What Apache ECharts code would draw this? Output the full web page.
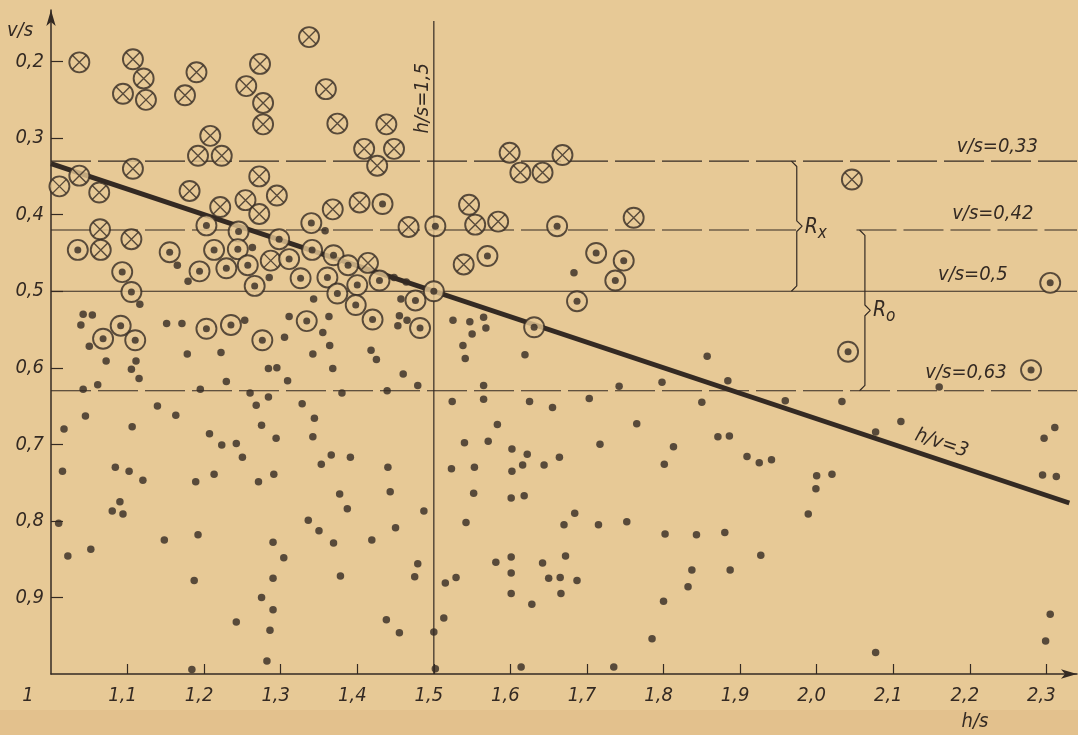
<!DOCTYPE html>
<html>
<head>
<meta charset="utf-8">
<script src="https://cdn.jsdelivr.net/npm/echarts@6/dist/echarts.min.js"></script>
<style>
html, body { margin: 0; padding: 0; background: #e7c996; }
#main { width: 1078px; height: 735px; }
</style>
</head>
<body>
<div id="main"></div>
<script>
// --- data: h/s (x) against v/s (y) ---
var xTicks = [1.1, 1.2, 1.3, 1.4, 1.5, 1.6, 1.7, 1.8, 1.9, 2.0, 2.1, 2.2, 2.3];
var yTicks = [0.2, 0.3, 0.4, 0.5, 0.6, 0.7, 0.8, 0.9];
var levels = [0.33, 0.42, 0.5, 0.63];
var hsLine = 1.5;
var hvLine = [[1.0, 0.3333], [2.33, 0.7767]];   // h/v = 3

// circle with cross
var crossed = [
  [1.037,0.201],[1.107,0.197],[1.121,0.222],[1.094,0.242],[1.124,0.250],[1.190,0.214],[1.175,0.244],
  [1.255,0.232],[1.273,0.203],[1.277,0.254],[1.277,0.282],[1.337,0.168],[1.359,0.236],[1.374,0.281],
  [1.438,0.282],[1.409,0.314],[1.448,0.314],[1.426,0.336],[1.208,0.297],[1.192,0.323],[1.223,0.323],
  [1.107,0.340],[1.037,0.349],[1.011,0.363],[1.063,0.371],[1.272,0.350],[1.181,0.369],[1.254,0.381],
  [1.221,0.390],[1.295,0.375],[1.272,0.399],[1.368,0.393],[1.403,0.384],
  [1.064,0.419],[1.065,0.446],[1.105,0.432],[1.287,0.460],[1.414,0.463],[1.467,0.416],
  [1.599,0.319],[1.613,0.345],[1.642,0.345],[1.668,0.322],[1.546,0.387],[1.554,0.413],[1.584,0.409],
  [1.539,0.465],[1.761,0.404],[2.046,0.354]
];

// circle with dot
var dotted = [
  [1.035,0.446],[1.093,0.475],[1.105,0.501],[1.091,0.545],[1.068,0.562],[1.110,0.564],[1.155,0.449],
  [1.194,0.474],[1.203,0.414],[1.213,0.446],[1.229,0.470],[1.245,0.422],[1.244,0.445],[1.257,0.466],
  [1.266,0.493],[1.203,0.549],[1.235,0.544],[1.276,0.564],[1.298,0.432],[1.311,0.458],[1.326,0.483],
  [1.340,0.411],[1.341,0.446],[1.334,0.539],[1.369,0.453],[1.361,0.482],[1.374,0.503],[1.388,0.466],
  [1.400,0.492],[1.398,0.518],[1.420,0.537],[1.429,0.486],[1.433,0.386],[1.476,0.512],[1.482,0.548],
  [1.502,0.415],[1.570,0.454],[1.661,0.415],[1.712,0.450],[1.748,0.460],[1.737,0.486],[1.687,0.513],
  [1.500,0.500],[1.631,0.547],[2.041,0.579],[2.305,0.489],[2.280,0.603]
];

// plain dots
var dots = [
  [1.042,0.530],[1.054,0.531],[1.039,0.544],[1.050,0.572],[1.072,0.591],[1.111,0.591],[1.116,0.517],
  [1.151,0.542],[1.171,0.542],[1.165,0.466],[1.179,0.487],[1.178,0.582],[1.222,0.580],[1.253,0.538],
  [1.263,0.443],[1.285,0.482],[1.305,0.560],[1.311,0.533],[1.343,0.510],[1.342,0.582],[1.358,0.421],
  [1.363,0.533],[1.355,0.554],[1.364,0.571],[1.418,0.577],[1.425,0.589],[1.448,0.482],[1.464,0.488],
  [1.457,0.510],[1.455,0.532],[1.453,0.545],[1.465,0.538],
  [1.525,0.538],[1.547,0.540],[1.565,0.534],[1.550,0.556],[1.568,0.548],[1.538,0.571],[1.541,0.588],
  [1.619,0.583],[1.683,0.476],[1.857,0.585],
  [1.105,0.602],[1.115,0.614],[1.042,0.628],[1.061,0.622],[1.195,0.628],[1.229,0.618],[1.260,0.633],
  [1.284,0.638],[1.284,0.601],[1.295,0.600],[1.309,0.617],[1.368,0.601],[1.380,0.633],[1.460,0.608],
  [1.479,0.623],[1.439,0.630],[1.139,0.650],[1.163,0.662],[1.045,0.663],[1.017,0.680],[1.106,0.677],
  [1.207,0.686],[1.223,0.701],[1.242,0.699],[1.250,0.717],[1.268,0.649],[1.275,0.675],[1.294,0.692],
  [1.328,0.647],[1.344,0.666],[1.342,0.690],[1.366,0.714],[1.353,0.726],[1.391,0.717],[1.440,0.730],
  [1.015,0.735],[1.084,0.730],[1.102,0.735],[1.120,0.747],[1.189,0.749],[1.213,0.739],[1.271,0.749],
  [1.291,0.739],[1.377,0.765],[1.443,0.762],[1.090,0.775],[1.080,0.787],[1.094,0.791],[1.387,0.784],
  [1.487,0.787],[1.010,0.803],[1.336,0.799],[1.350,0.813],[1.450,0.809],[1.192,0.818],[1.148,0.825],
  [1.290,0.828],[1.369,0.829],[1.419,0.825],[1.022,0.846],[1.052,0.837],[1.304,0.848],[1.479,0.856],
  [1.475,0.873],[1.187,0.878],[1.290,0.875],[1.378,0.872],[1.275,0.900],[1.290,0.916],[1.242,0.932],
  [1.286,0.943],[1.438,0.929],[1.455,0.946],[1.282,0.983],[1.184,0.994],[1.500,0.945],[1.502,0.993],
  [1.565,0.623],[1.565,0.641],[1.524,0.644],[1.625,0.644],[1.655,0.652],[1.703,0.640],[1.742,0.624],
  [1.798,0.619],[1.850,0.645],[1.884,0.617],[1.959,0.643],[1.583,0.674],[1.765,0.673],[1.540,0.698],
  [1.571,0.696],[1.602,0.706],[1.622,0.713],[1.616,0.727],[1.602,0.735],[1.644,0.727],[1.664,0.717],
  [1.717,0.700],[1.813,0.703],[1.801,0.726],[1.871,0.690],[1.886,0.689],[1.909,0.716],[1.925,0.724],
  [1.941,0.720],[2.000,0.741],[1.999,0.758],[1.523,0.732],[1.553,0.730],[1.552,0.764],[1.601,0.770],
  [1.618,0.767],[1.542,0.802],[1.670,0.805],[1.684,0.790],[1.715,0.805],[1.752,0.801],[1.802,0.817],
  [1.843,0.818],[1.880,0.815],[1.989,0.791],[1.927,0.845],[1.581,0.854],[1.601,0.847],[1.601,0.868],
  [1.642,0.855],[1.672,0.846],[1.650,0.875],[1.665,0.874],[1.687,0.878],[1.666,0.895],[1.601,0.895],
  [1.628,0.909],[1.515,0.881],[1.529,0.874],[1.513,0.927],[1.837,0.864],[1.887,0.864],[1.832,0.886],
  [1.800,0.905],[1.785,0.954],[1.614,0.991],[1.735,0.991],
  [2.160,0.625],[2.033,0.644],[2.110,0.670],[2.077,0.684],[2.311,0.678],[2.297,0.692],[2.020,0.739],
  [2.295,0.740],[2.313,0.742],[2.305,0.922],[2.299,0.957],[2.077,0.972]
];

var ink = '#342a23';
var paper = '#e7c996';
var fam = '"Liberation Sans Narrow", "DejaVu Sans Condensed", sans-serif';

function comma(v) { return v.toFixed(1).replace('.', ','); }

// curly bracket } between two levels
function brace(h, v0, v1) {
  var m = (v0 + v1) / 2, d = 0.007, w = 0.007;
  return [[h - w, v0], [h, v0 + d], [h, m - d], [h + w, m], [h, m + d], [h, v1 - d], [h - w, v1]];
}

function refLine(data, dashed) {
  return {
    type: 'line', data: data, symbol: 'none', silent: true, z: 1,
    lineStyle: { color: ink, width: 1.2, type: dashed ? [40, 7] : 'solid' }
  };
}

var series = [
  refLine([[1.0, levels[0]], [2.34, levels[0]]], true),
  refLine([[1.0, levels[1]], [1.974, levels[1]]], true),
  refLine([[2.052, levels[1]], [2.34, levels[1]]], true),
  refLine([[1.0, levels[2]], [2.34, levels[2]]], false),
  refLine([[1.0, levels[3]], [2.34, levels[3]]], true),
  refLine([[hsLine, 0.147], [hsLine, 1.0]], false),
  refLine(brace(1.974, levels[0], levels[2]), false),
  refLine(brace(2.063, levels[1], levels[3]), false),
  {
    type: 'line', data: hvLine, symbol: 'none', silent: true, z: 2,
    lineStyle: { color: ink, width: 4.8 }
  },
  {
    type: 'scatter', data: dots, symbol: 'circle', symbolSize: 7.5, z: 3, silent: true,
    itemStyle: { color: ink }
  },
  {
    type: 'scatter', data: crossed.concat(dotted), symbol: 'circle', symbolSize: 20, z: 4, silent: true,
    itemStyle: { color: paper, borderColor: ink, borderWidth: 1.9 }
  },
  {
    type: 'scatter', data: crossed, symbol: 'path://M0 0L10 10M10 0L0 10', symbolSize: 14, z: 5, silent: true,
    itemStyle: { color: 'rgba(0,0,0,0)', borderColor: ink, borderWidth: 1.4 }
  },
  {
    type: 'scatter', data: dotted, symbol: 'circle', symbolSize: 7, z: 5, silent: true,
    itemStyle: { color: ink }
  }
];

var chart = echarts.init(document.getElementById('main'));
chart.setOption({
  animation: false,
  backgroundColor: paper,
  grid: { left: 51, right: 1, top: 10, bottom: 61 },
  xAxis: {
    type: 'value', min: 1.0, max: 2.34,
    axisLine: { onZero: false, symbol: ['none', 'arrow'], symbolSize: [7, 16], lineStyle: { color: ink, width: 1.5 } },
    axisTick: { show: true, inside: true, length: 10, customValues: xTicks, lineStyle: { color: ink, width: 1.2 } },
    axisLabel: {
      customValues: xTicks, formatter: comma, color: ink, fontFamily: fam, fontStyle: 'italic',
      fontSize: 20, margin: 12, padding: [0, 10, 0, 0]
    },
    splitLine: { show: false }
  },
  yAxis: {
    type: 'value', inverse: true, min: 0.1326, max: 1.0,
    axisLine: { onZero: false, symbol: ['none', 'arrow'], symbolSize: [7, 16], lineStyle: { color: ink, width: 1.5 } },
    axisTick: { show: true, inside: true, length: 12, customValues: yTicks, lineStyle: { color: ink, width: 1.2 } },
    axisLabel: {
      customValues: yTicks, formatter: comma, color: ink, fontFamily: fam, fontStyle: 'italic',
      fontSize: 20, margin: 7, padding: [14, 0, 0, 0]
    },
    splitLine: { show: false }
  },
  series: series
});

// --- texts on the plot ---
function px(h, v) { return chart.convertToPixel({ gridIndex: 0 }, [h, v]); }
function txt(s, p, o) {
  o = o || {};
  return {
    type: 'text', x: p[0] + (o.dx || 0), y: p[1] + (o.dy || 0), rotation: o.rot || 0, z: 10, silent: true,
    style: {
      text: s, fill: ink, font: 'italic ' + (o.size || 20) + 'px ' + fam,
      align: o.align || 'center', verticalAlign: o.va || 'middle'
    }
  };
}

var g = [
  // lower strip of the page
  { type: 'rect', shape: { x: 0, y: 710, width: 1078, height: 25 }, style: { fill: '#e3c18d' }, z: 0, silent: true },
  txt('v/s=0,33', px(2.236, levels[0]), { va: 'bottom', dy: -4 }),
  txt('v/s=0,42', px(2.230, levels[1]), { va: 'bottom', dy: -6 }),
  txt('v/s=0,5', px(2.204, levels[2]), { va: 'bottom', dy: -6 }),
  txt('v/s=0,63', px(2.195, levels[3]), { va: 'bottom', dy: -8 }),
  txt('h/v=3', px(2.171, 2.171 / 3), { dx: -6, dy: -19, rot: -Math.atan(1 / 3) }),
  txt('h/s=1,5', px(hsLine, 0.248), { dx: -11, rot: Math.PI / 2 }),
  txt('R', px(1.974, 0.415), { align: 'left', dx: 8, dy: 1, size: 21 }),
  txt('x', px(1.974, 0.415), { align: 'left', dx: 21, dy: 7, size: 17 }),
  txt('R', px(2.063, 0.525), { align: 'left', dx: 8, dy: 0, size: 21 }),
  txt('o', px(2.063, 0.525), { align: 'left', dx: 21, dy: 6, size: 17 }),
  txt('v/s', [20, 31]),
  txt('h/s', [975, 722]),
  txt('1', [28, 696])
];
chart.setOption({ graphic: g });
</script>
</body>
</html>
